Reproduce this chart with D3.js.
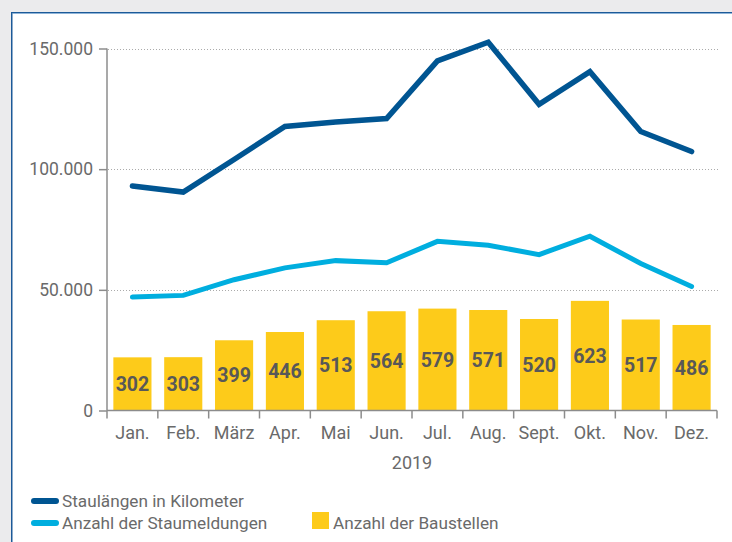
<!DOCTYPE html>
<html>
<head>
<meta charset="utf-8">
<script src="https://cdn.jsdelivr.net/npm/d3@7"></script>
<style>
  html, body { margin: 0; padding: 0; background: #ebebed; }
  svg { display: block; }
  text { font-family: Roboto, "Noto Sans", sans-serif; }
</style>
</head>
<body>
<svg id="chart" width="732" height="542"></svg>
<script>
// Monthly figures 2019
const months = ["Jan.", "Feb.", "März", "Apr.", "Mai", "Jun.", "Jul.", "Aug.", "Sept.", "Okt.", "Nov.", "Dez."];
const staulaengen = [93000, 90500, 104000, 117700, 119500, 121000, 144900, 152600, 126900, 140400, 115600, 107300];
const staumeldungen = [47000, 47700, 54200, 59100, 62100, 61200, 70100, 68500, 64600, 72200, 60900, 51400];
const baustellen = [302, 303, 399, 446, 513, 564, 579, 571, 520, 623, 517, 486];
const yTicks = [0, 50000, 100000, 150000];
const yearLabel = "2019";
const legendLabels = ["Staulängen in Kilometer", "Anzahl der Staumeldungen", "Anzahl der Baustellen"];

const colors = { dark: "#005592", light: "#00aedf", bar: "#fdcb1a", axis: "#8c8c8c", text: "#6a6a6a", barText: "#585858" };

const svg = d3.select("#chart");

// White panel with blue frame on the left and top edges
svg.append("rect").attr("x", 11).attr("y", 12).attr("width", 721).attr("height", 530).attr("fill", "#ffffff");
svg.append("path")
  .attr("d", "M11.75,542 V12.75 H732")
  .attr("fill", "none").attr("stroke", "#1c5a98").attr("stroke-width", 1.5);
svg.append("line").attr("x1", 12.5).attr("x2", 732).attr("y1", 13.5).attr("y2", 13.5)
  .attr("stroke", "#8fb4d8").attr("stroke-width", 1);

const plotLeft = 107, plotRight = 717, plotTop = 48.5, plotBottom = 410.5;

const x = d3.scaleBand().domain(months).range([plotLeft, plotRight]).paddingInner(0.25).paddingOuter(0.125);
const xPoint = m => x(m) + x.bandwidth() / 2;
const y = d3.scaleLinear().domain([0, 150000]).range([plotBottom, plotTop]);
const yBar = d3.scaleLinear().domain([0, 2057]).range([plotBottom, plotTop]);

// Dotted gridlines
svg.append("g").selectAll("line").data(yTicks.filter(d => d > 0)).join("line")
  .attr("x1", plotLeft + 1).attr("x2", plotRight + 1)
  .attr("y1", d => Math.round(y(d)) + 0.5).attr("y2", d => Math.round(y(d)) + 0.5)
  .attr("stroke", "#ababab").attr("stroke-width", 1).attr("stroke-dasharray", "1,2");

// Bars
svg.append("g").selectAll("rect").data(baustellen).join("rect")
  .attr("x", (d, i) => x(months[i]))
  .attr("width", x.bandwidth())
  .attr("y", d => yBar(d))
  .attr("height", d => plotBottom - yBar(d))
  .attr("fill", colors.bar);

// Bar value labels
svg.append("g").selectAll("text").data(baustellen).join("text")
  .attr("x", (d, i) => xPoint(months[i]))
  .attr("y", d => (yBar(d) + plotBottom) / 2)
  .attr("dy", "0.36em")
  .attr("text-anchor", "middle")
  .attr("font-size", 19.5).attr("font-weight", "bold")
  .attr("fill", colors.barText)
  .text(d => d);

// Lines
const line = d3.line().x((d, i) => xPoint(months[i])).y(d => y(d));
svg.append("path").datum(staumeldungen).attr("d", line)
  .attr("fill", "none").attr("stroke", colors.light).attr("stroke-width", 5)
  .attr("stroke-linejoin", "miter").attr("stroke-linecap", "round");
svg.append("path").datum(staulaengen).attr("d", line)
  .attr("fill", "none").attr("stroke", colors.dark).attr("stroke-width", 5.5)
  .attr("stroke-linejoin", "miter").attr("stroke-linecap", "round");

// Y axis
const yAxis = svg.append("g").attr("transform", `translate(${plotLeft},0)`)
  .call(d3.axisLeft(y).tickValues(yTicks).tickSize(8).tickPadding(6)
    .tickFormat(d => d3.format(",")(d).replace(/,/g, ".")));
yAxis.select(".domain").attr("stroke", colors.axis).attr("stroke-width", 1.5).attr("d", `M0,${plotTop}V${plotBottom}`);
yAxis.selectAll(".tick line").attr("stroke", colors.axis).attr("stroke-width", 1.5);
yAxis.selectAll(".tick text").attr("font-size", 17.5).attr("fill", colors.text).attr("font-family", "Roboto, sans-serif");

// X axis with ticks on category boundaries
const xAxisG = svg.append("g");
xAxisG.append("line").attr("x1", plotLeft).attr("x2", plotRight).attr("y1", plotBottom).attr("y2", plotBottom)
  .attr("stroke", colors.axis).attr("stroke-width", 1.5);
const step = x.step();
const boundaries = d3.range(months.length + 1).map(i => plotLeft + i * step);
xAxisG.selectAll("line.tk").data(boundaries).join("line").attr("class", "tk")
  .attr("x1", d => d).attr("x2", d => d).attr("y1", plotBottom).attr("y2", plotBottom + 8)
  .attr("stroke", colors.axis).attr("stroke-width", 1.5);
xAxisG.selectAll("text").data(months).join("text")
  .attr("x", d => xPoint(d)).attr("y", 439)
  .attr("text-anchor", "middle").attr("font-size", 18).attr("fill", colors.text)
  .text(d => d);
svg.append("text").attr("x", (plotLeft + plotRight) / 2).attr("y", 469)
  .attr("text-anchor", "middle").attr("font-size", 18).attr("fill", colors.text)
  .text(yearLabel);

// Legend
const legend = svg.append("g");
const legendLines = [
  { label: legendLabels[0], color: colors.dark, y: 501 },
  { label: legendLabels[1], color: colors.light, y: 523 }
];
legendLines.forEach(l => {
  legend.append("line").attr("x1", 34).attr("x2", 56).attr("y1", l.y).attr("y2", l.y)
    .attr("stroke", l.color).attr("stroke-width", 6).attr("stroke-linecap", "round");
  legend.append("text").attr("x", 62).attr("y", l.y + 6).attr("font-size", 17.2).attr("fill", colors.text)
    .text(l.label);
});
legend.append("rect").attr("x", 312).attr("y", 512).attr("width", 17).attr("height", 17).attr("fill", colors.bar);
legend.append("text").attr("x", 333).attr("y", 529).attr("font-size", 17.2).attr("fill", colors.text)
  .text(legendLabels[2]);
</script>
</body>
</html>
